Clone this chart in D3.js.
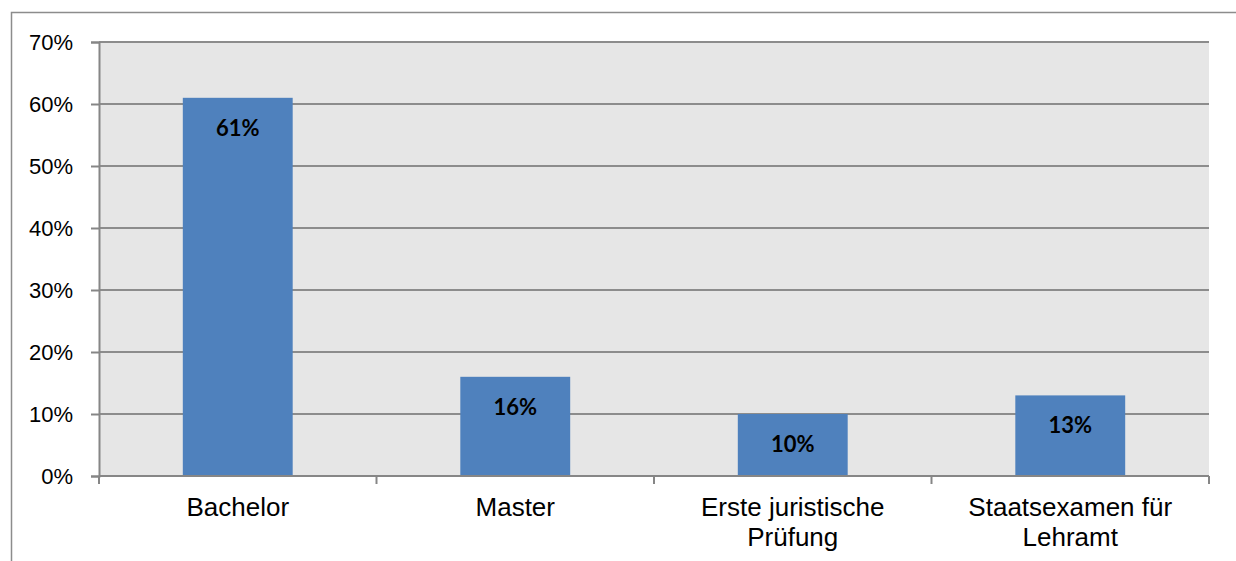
<!DOCTYPE html>
<html>
<head>
<meta charset="utf-8">
<script src="https://cdn.jsdelivr.net/npm/d3@7/dist/d3.min.js"></script>
<style>
    body { margin:0; background:#fff; }
    .tick text { font-family: Arial, "Liberation Sans", sans-serif; fill:#000; }
    text.cat { font-family: Arial, "Liberation Sans", sans-serif; font-size:26px; fill:#000; }
    text.val { font-family: Lato, "Open Sans", sans-serif; font-weight:bold; font-size:22px; fill:#000; }
</style>
</head>
<body>
<svg id="chart"></svg>
<script>
    // data
    var categories = [["Bachelor"], ["Master"], ["Erste juristische", "Prüfung"], ["Staatsexamen für", "Lehramt"]];
    var values = [0.61, 0.16, 0.10, 0.13];
    var yTicks = [0, 0.1, 0.2, 0.3, 0.4, 0.5, 0.6, 0.7];

    var W = 1236, H = 561;
    var plot = {left:99, top:42, right:1209, bottom:476};

    var svg = d3.select("#chart").attr("width", W).attr("height", H);

    // outer frame (clipped on right/bottom like the original)
    svg.append("rect")
        .attr("x", 11.5).attr("y", 12.5)
        .attr("width", W + 10).attr("height", H + 10)
        .attr("fill", "#fff").attr("stroke", "#8c8c8c").attr("stroke-width", 1.5);

    var x = d3.scaleBand()
        .domain(d3.range(categories.length))
        .range([plot.left, plot.right])
        .paddingInner(0.604).paddingOuter(0.302);

    var xb = d3.scaleBand()
        .domain(d3.range(categories.length))
        .range([plot.left, plot.right]);

    var y = d3.scaleLinear().domain([0, 0.7]).range([plot.bottom, plot.top]);

    svg.append("rect")
        .attr("x", plot.left).attr("y", plot.top)
        .attr("width", plot.right - plot.left).attr("height", plot.bottom - plot.top)
        .attr("fill", "#e6e6e6");

    // gridlines
    svg.append("g").selectAll("line")
        .data(yTicks.slice(1))
        .enter().append("line")
            .attr("x1", plot.left).attr("x2", plot.right)
            .attr("y1", d => y(d)).attr("y2", d => y(d))
            .attr("stroke", "#8c8c8c").attr("stroke-width", 2);

    // bars
    svg.append("g").selectAll("rect")
        .data(values)
        .enter().append("rect")
            .attr("x", (d, i) => x(i))
            .attr("width", x.bandwidth())
            .attr("y", d => y(d))
            .attr("height", d => y(0) - y(d))
            .attr("fill", "#4f81bd");

    svg.append("g").selectAll("text")
        .data(values)
        .enter().append("text").classed("val", true)
            .attr("x", (d, i) => x(i) + x.bandwidth() / 2)
            .attr("y", d => y(d) + 38)
            .attr("text-anchor", "middle")
            .text(d => Math.round(d * 100) + "%");

    // y axis
    var yAxis = d3.axisLeft(y).tickValues(yTicks)
        .tickFormat(d => Math.round(d * 100) + "%")
        .tickSize(8).tickPadding(18);
    var yg = svg.append("g").attr("transform", "translate(" + plot.left + ",0)").call(yAxis);
    yg.selectAll("text").style("font-size", "22px");
    yg.selectAll("line, path").attr("stroke", "#868686").attr("stroke-width", 2);

    // x axis
    var xg = svg.append("g").attr("transform", "translate(0," + plot.bottom + ")");
    xg.append("line")
        .attr("x1", plot.left).attr("x2", plot.right)
        .attr("stroke", "#868686").attr("stroke-width", 2);
    xg.selectAll("line.tk")
        .data(d3.range(categories.length + 1))
        .enter().append("line").classed("tk", true)
            .attr("x1", i => i < categories.length ? xb(i) : plot.right)
            .attr("x2", i => i < categories.length ? xb(i) : plot.right)
            .attr("y1", 0).attr("y2", 8)
            .attr("stroke", "#868686").attr("stroke-width", 2);

    var cat = svg.append("g").selectAll("text")
        .data(categories)
        .enter().append("text").classed("cat", true)
            .attr("text-anchor", "middle")
            .attr("x", (d, i) => xb(i) + xb.bandwidth() / 2)
            .attr("y", 40 + plot.bottom);
    cat.selectAll("tspan")
        .data(d => d)
        .enter().append("tspan")
            .attr("x", function() { return this.parentNode.getAttribute("x"); })
            .attr("dy", (d, j) => j === 0 ? 0 : 30)
            .text(d => d);
</script>
</body>
</html>
